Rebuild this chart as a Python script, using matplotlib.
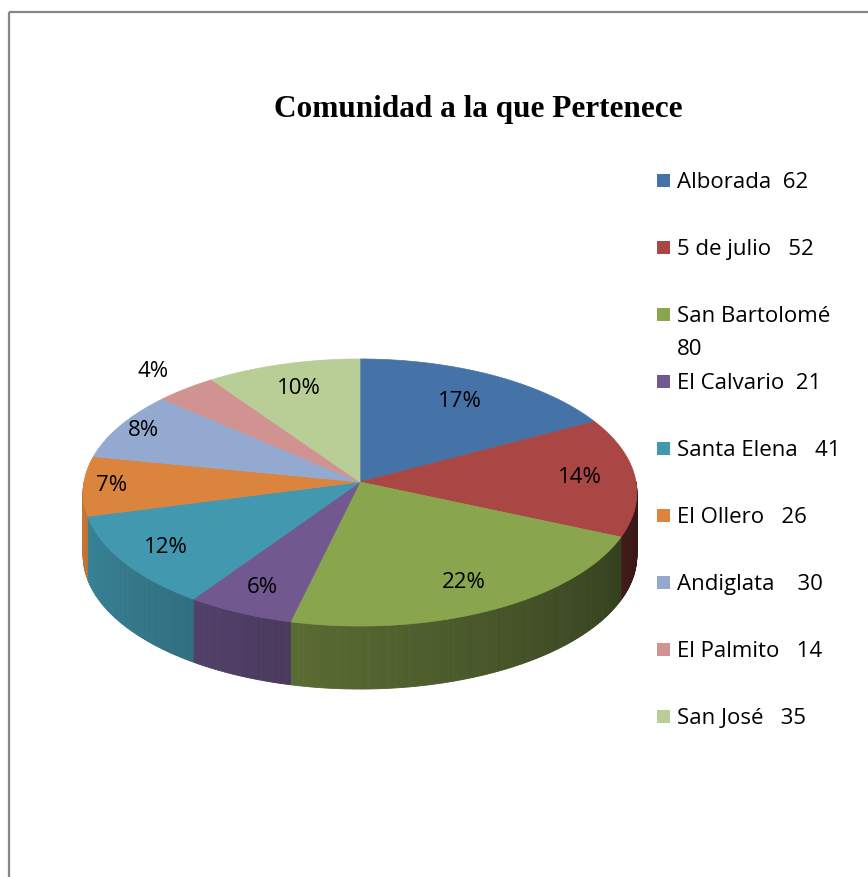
import numpy as np
import matplotlib
matplotlib.use('Agg')
import matplotlib.pyplot as plt
from matplotlib.patches import Polygon, Rectangle
from matplotlib.colors import to_rgb

# datos
comunidades = ['Alborada', '5 de julio', 'San Bartolomé', 'El Calvario', 'Santa Elena',
               'El Ollero', 'Andiglata', 'El Palmito', 'San José']
cantidades = [62, 52, 80, 21, 41, 26, 30, 14, 35]
porcentajes = [17, 14, 22, 6, 12, 7, 8, 4, 10]   # como aparecen en el grafico
etiquetas_leyenda = ['Alborada  62', '5 de julio   52', 'San Bartolomé\n80', 'El Calvario  21',
                     'Santa Elena   41', 'El Ollero   26', 'Andiglata    30', 'El Palmito   14',
                     'San José   35']
colores = ['#4572A7', '#AA4643', '#89A54E', '#71588F', '#4198AF',
           '#DB843D', '#93A9CF', '#D19392', '#B9CD96']
titulo = 'Comunidad a la que Pertenece'

# radio relativo de cada etiqueta de porcentaje
radio_etiqueta = [0.74, 0.8, 0.8, 0.82, 0.83, 0.9, 0.9, 1.2, 0.78]

# geometria del pastel 3D (pixeles)
CX, CY = 360, 482
A, B, K = 276, 132.7, 0.0787
Z = 63


def proj(theta, r=1.0, z=0.0):
    t = np.radians(theta)
    u = r * np.cos(t)
    v = -r * np.sin(t)
    s = 1 / (1 - K * v)
    return CX + A * u * s, CY + B * v * s + z


def sombra(theta):
    th = -((-theta) % 360)
    f = 0.37 + 0.51 * ((-th - 20) / 150)
    return min(max(f, 0.34), 0.9)


fig = plt.figure(figsize=(8.68, 8.77), dpi=100)
ax = fig.add_axes([0, 0, 1, 1])
ax.set_xlim(0, 868)
ax.set_ylim(877, 0)
ax.axis('off')

fuente = ['Open Sans', 'DejaVu Sans']

# borde del grafico
ax.add_patch(Rectangle((9, 12), 900, 900, fill=False, edgecolor='#878787', lw=1.6))

valores = np.array(cantidades, dtype=float)
frac = valores / valores.sum()
inicio = 90 - 360 * np.concatenate([[0], np.cumsum(frac)[:-1]])
fin = inicio - 360 * frac

# paredes laterales (solo la mitad frontal)
for i in range(len(valores)):
    angs = np.linspace(inicio[i], fin[i], max(int(abs(inicio[i] - fin[i]) * 2), 2))
    base = np.array(to_rgb(colores[i]))
    for a0, a1 in zip(angs[:-1], angs[1:]):
        m = (a0 + a1) / 2
        if np.sin(np.radians(m)) >= 0:
            continue
        p0 = proj(a0)
        p1 = proj(a1)
        q1 = proj(a1, z=Z)
        q0 = proj(a0, z=Z)
        c = base * sombra(m)
        ax.add_patch(Polygon([p0, p1, q1, q0], closed=True, facecolor=c,
                             edgecolor=c, lw=0.6))

# cara superior
for i in range(len(valores)):
    angs = np.linspace(inicio[i], fin[i], 200)
    pts = [(CX, CY)] + [proj(a) for a in angs]
    ax.add_patch(Polygon(pts, closed=True, facecolor=colores[i],
                         edgecolor=colores[i], lw=0.5))

# etiquetas de porcentaje
for i in range(len(valores)):
    medio = (inicio[i] + fin[i]) / 2
    x, y = proj(medio, radio_etiqueta[i])
    ax.text(x, y, '%d%%' % porcentajes[i], ha='center', va='center',
            fontsize=16, family=fuente, color='black')

# titulo
ax.text(478, 110, titulo, ha='center', va='center', fontsize=22.5,
        fontweight='bold', family='Liberation Serif')

# leyenda
for i, lab in enumerate(etiquetas_leyenda):
    y = 180 + 67 * i
    ax.add_patch(Rectangle((657, y - 6.5), 13, 13, facecolor=colores[i], edgecolor='none'))
    for j, linea in enumerate(lab.split('\n')):
        ax.text(677, y + 8 + 33 * j, linea, ha='left', va='baseline', fontsize=16,
                family=fuente)

fig.savefig('out.png', dpi=100)
